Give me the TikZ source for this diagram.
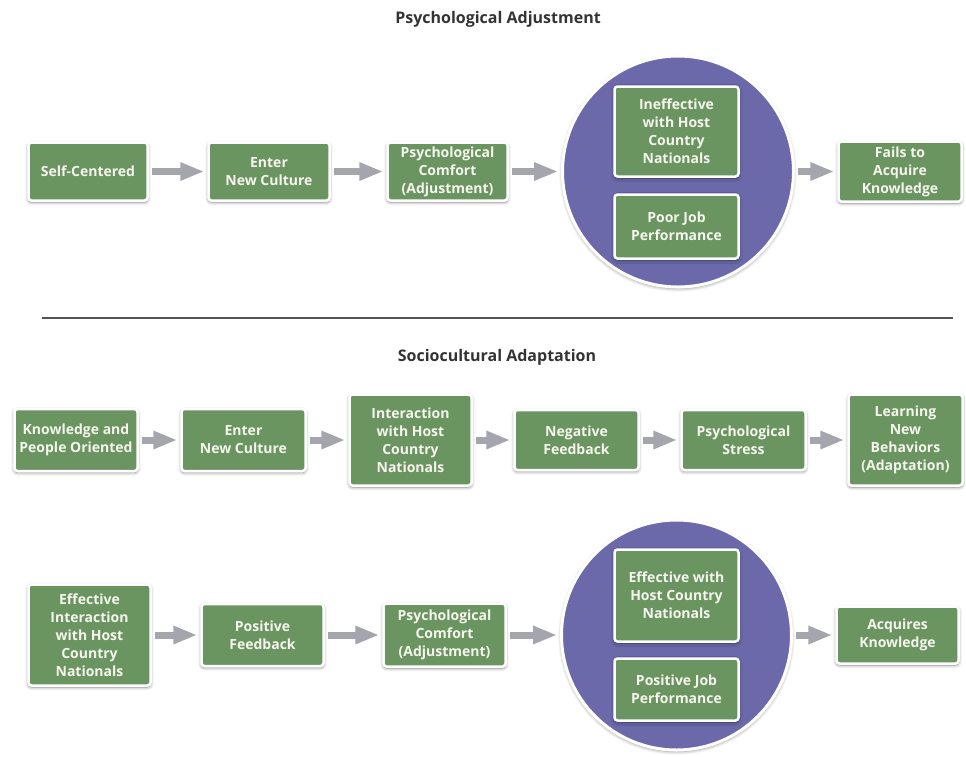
\documentclass[tikz,border=0pt]{standalone}
\usepackage{fontspec}
\setmainfont{Open Sans}
\usetikzlibrary{arrows.meta,shadows.blur}
\definecolor{boxgreen}{HTML}{6A9460}
\definecolor{circblue}{HTML}{6B69A9}
\definecolor{arrowgray}{HTML}{A5A5AE}
\definecolor{titlegray}{HTML}{333333}
\definecolor{linegray}{HTML}{555555}
\definecolor{boxtext}{HTML}{F6F6EE}
\tikzset{
  box/.style={draw=white, line width=2.5pt, fill=boxgreen, rounded corners=3pt,
    text=boxtext, font=\bfseries\fontsize{14}{18}\selectfont, align=center, inner sep=0pt,
    blur shadow={shadow blur steps=6, shadow xshift=0pt, shadow yshift=-1.5pt,
      shadow blur radius=3.5pt, shadow opacity=50}},
  circ/.style={circle, draw=white, line width=3pt, fill=circblue, inner sep=0pt,
    blur shadow={shadow blur steps=6, shadow xshift=0pt, shadow yshift=-1.5pt,
      shadow blur radius=3.5pt, shadow opacity=45}},
  flow/.style={draw=arrowgray, line width=7pt, -{Triangle[length=24pt,width=17pt]},
    shorten <=3pt, shorten >=3pt},
  heading/.style={text=titlegray, font=\bfseries\fontsize{16}{19}\selectfont},
}
\begin{document}
\begin{tikzpicture}[x=1pt,y=-1pt]
\useasboundingbox (0,0) rectangle (966,756);

% ---------- Psychological Adjustment ----------
\node[heading] (t1) at (498,19) {Psychological Adjustment};

\node[box, minimum width=119pt, minimum height=58pt] (s1) at (88,171.5) {Self-Centered};
\node[box, minimum width=121pt, minimum height=58pt] (s2) at (269,171.5) {Enter\\New Culture};
\node[box, minimum width=120pt, minimum height=58pt] (s3) at (447.5,171.5) {Psychological\\Comfort\\(Adjustment)};
\node[circ, minimum size=231pt] (c1) at (678,171.5) {};
\node[box, minimum width=124pt, minimum height=90pt] (i1) at (676.5,131.5) {Ineffective\\with Host\\Country\\Nationals};
\node[box, minimum width=124pt, minimum height=64pt] (i2) at (676.5,226.5) {Poor Job\\Performance};
\node[box, minimum width=123pt, minimum height=60pt] (s5) at (900,171.5) {Fails to\\Acquire\\Knowledge};

\draw[flow] (s1) -- (s2);
\draw[flow] (s2) -- (s3);
\draw[flow] (s3) -- (c1);
\draw[flow] (c1) -- (s5);

% ---------- divider ----------
\coordinate (l1) at (42,318);
\coordinate (l2) at (953,318);
\draw[linegray, line width=2pt] (l1) -- (l2);

% ---------- Sociocultural Adaptation ----------
\node[heading] (t2) at (497,357) {Sociocultural Adaptation};

\node[box, minimum width=123pt, minimum height=62pt] (k1) at (76,440) {Knowledge and\\People Oriented};
\node[box, minimum width=124pt, minimum height=62pt] (k2) at (243.5,440) {Enter\\New Culture};
\node[box, minimum width=122pt, minimum height=91pt] (k3) at (410.5,440) {Interaction\\with Host\\Country\\Nationals};
\node[box, minimum width=124pt, minimum height=60pt] (k4) at (576.5,440) {Negative\\Feedback};
\node[box, minimum width=124pt, minimum height=60pt] (k5) at (743.5,440) {Psychological\\Stress};
\node[box, minimum width=114pt, minimum height=91pt] (k6) at (905.5,440) {Learning\\New\\Behaviors\\(Adaptation)};

\draw[flow] (k1) -- (k2);
\draw[flow] (k2) -- (k3);
\draw[flow] (k3) -- (k4);
\draw[flow] (k4) -- (k5);
\draw[flow] (k5) -- (k6);

\node[box, minimum width=122pt, minimum height=101pt] (e1) at (89.5,635) {Effective\\Interaction\\with Host\\Country\\Nationals};
\node[box, minimum width=122pt, minimum height=62pt] (e2) at (262.5,635) {Positive\\Feedback};
\node[box, minimum width=122pt, minimum height=63pt] (e3) at (444.5,635) {Psychological\\Comfort\\(Adjustment)};
\node[circ, minimum size=230pt] (c2) at (676.5,635) {};
\node[box, minimum width=124pt, minimum height=92pt] (j1) at (676.5,595.5) {Effective with\\Host Country\\Nationals};
\node[box, minimum width=124pt, minimum height=62pt] (j2) at (676.5,689.5) {Positive Job\\Performance};
\node[box, minimum width=122pt, minimum height=57pt] (e5) at (897.5,635) {Acquires\\Knowledge};

\draw[flow] (e1) -- (e2);
\draw[flow] (e2) -- (e3);
\draw[flow] (e3) -- (c2);
\draw[flow] (c2) -- (e5);
\end{tikzpicture}
\end{document}
